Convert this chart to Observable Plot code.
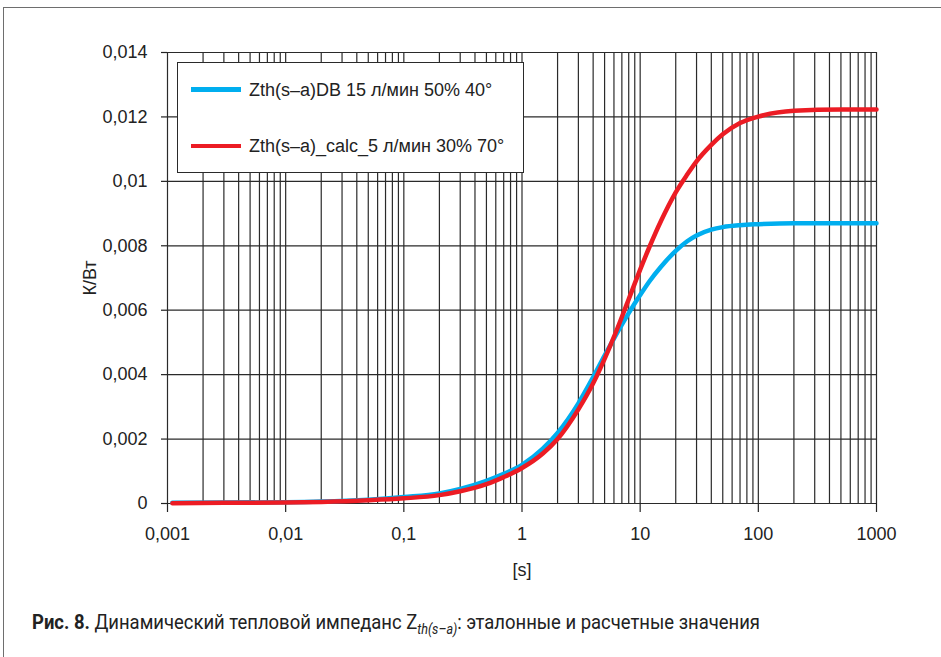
<!DOCTYPE html>
<html>
<head>
<meta charset="utf-8">
<script src="https://cdn.jsdelivr.net/npm/d3@7"></script>
<script src="https://cdn.jsdelivr.net/npm/@observablehq/plot@0.6"></script>
<style>
  html, body { margin: 0; padding: 0; background: #fff; }
  body { width: 941px; height: 657px; position: relative; overflow: hidden; font-family: "Liberation Sans", Arial, sans-serif; }
  #frame { position: absolute; left: 3px; top: 7px; width: 960px; height: 700px; border-top: 1.5px solid #6e6e6e; border-left: 1.5px solid #6e6e6e; }
  #chart { position: absolute; left: 0; top: 0; }
  #legend { position: absolute; left: 177px; top: 62px; width: 345px; height: 109px; border: 1.3px solid #2a2a2a; background: #fff; }
  .lg { position: absolute; left: 71px; font-size: 18px; color: #222; line-height: 20px; white-space: nowrap; }
  .sw { position: absolute; left: 13px; width: 50px; height: 4.5px; }
  #caption { position: absolute; left: 32px; top: 610px; font-family: Roboto, "Liberation Sans", sans-serif; font-size: 21px; color: #222; white-space: nowrap; transform-origin: 0 0; }
  #caption b { font-weight: 700; }
  #caption sub { font-style: italic; font-size: 0.68em; vertical-align: -0.35em; }
</style>
</head>
<body>
<div id="frame"></div>
<div id="chart"></div>
<div id="legend"></div>
<div id="caption"><b>Рис. 8.</b> Динамический тепловой импеданс Z<sub>th(s–a)</sub>: эталонные и расчетные значения</div>
<script>
// ---- data ----
const times = [0.0011, 0.003, 0.01, 0.02, 0.05, 0.1, 0.2, 0.3, 0.5, 0.7, 1, 1.5, 2, 3, 4, 5, 6, 7, 8, 10, 12, 15, 20, 25, 30, 40, 50, 70, 100, 200, 500, 1000];
const zthDB = [0.00002, 0.00003, 0.00004, 0.00006, 0.00012, 0.0002, 0.00031, 0.00045, 0.0007, 0.00092, 0.0012, 0.0017, 0.00219, 0.00311, 0.00392, 0.00459, 0.00512, 0.00555, 0.00591, 0.00647, 0.0069, 0.00735, 0.00784, 0.00814, 0.00832, 0.0085, 0.00858, 0.00864, 0.00867, 0.0087, 0.0087, 0.0087];
const zthCalc = [0.00001, 0.00002, 0.00003, 0.00005, 0.0001, 0.00016, 0.00026, 0.00038, 0.0006, 0.00082, 0.0011, 0.00155, 0.002, 0.00292, 0.00373, 0.00449, 0.00517, 0.00579, 0.00634, 0.00726, 0.00797, 0.00877, 0.00966, 0.01021, 0.01062, 0.01113, 0.01146, 0.01181, 0.01201, 0.01219, 0.01223, 0.01223];
const seriesNames = ["Zth(s–a)DB 15 л/мин 50% 40°", "Zth(s–a)_calc_5 л/мин 30% 70°"];
const seriesColors = ["#00aeef", "#ec1c24"];
const xTicks = [0.001, 0.01, 0.1, 1, 10, 100, 1000];
const xTickLabels = ["0,001", "0,01", "0,1", "1", "10", "100", "1000"];
const yTicks = [0, 0.002, 0.004, 0.006, 0.008, 0.01, 0.012, 0.014];
const yTickLabels = ["0", "0,002", "0,004", "0,006", "0,008", "0,01", "0,012", "0,014"];
const xLabel = "[s]";
const yLabel = "К/Вт";

// ---- build ----
const rows = [];
times.forEach((t, i) => rows.push({t, v: zthDB[i], s: seriesNames[0]}));
times.forEach((t, i) => rows.push({t, v: zthCalc[i], s: seriesNames[1]}));
const gridX = [];
xTicks.slice(0, -1).forEach(d => { for (let k = 1; k <= 9; k++) gridX.push(d * k); });
gridX.push(xTicks[xTicks.length - 1]);
const xFmt = new Map(xTicks.map((d, i) => [d, xTickLabels[i]]));
const yFmt = new Map(yTicks.map((d, i) => [d, yTickLabels[i]]));

const chart = Plot.plot({
  width: 941, height: 600,
  marginLeft: 167, marginRight: 65, marginTop: 52, marginBottom: 97,
  x: {type: "log", domain: [0.001, 1000]},
  y: {domain: [0, 0.014]},
  color: {domain: seriesNames, range: seriesColors},
  style: {fontFamily: "'Liberation Sans', Arial, sans-serif", fontSize: "18px", color: "#222", background: "transparent", overflow: "visible"},
  marks: [
    Plot.ruleX(gridX, {stroke: "#2a2a2a", strokeWidth: 1.2}),
    Plot.ruleY(yTicks, {stroke: "#2a2a2a", strokeWidth: 1.2}),
    Plot.axisX(xTicks, {tickSize: 9, tickPadding: 15, tickFormat: d => xFmt.get(d), label: xLabel, labelAnchor: "center", labelArrow: "none", labelOffset: 72, strokeWidth: 1.2}),
    Plot.axisY(yTicks, {tickSize: 6, tickPadding: 14, tickFormat: d => yFmt.get(d), label: yLabel, labelAnchor: "center", labelArrow: "none", labelOffset: 84, strokeWidth: 1.2}),
    Plot.line(rows, {x: "t", y: "v", z: "s", stroke: "s", strokeWidth: 4.5, curve: "monotone-x"})
  ]
});
document.getElementById("chart").appendChild(chart);

// legend
const lg = document.getElementById("legend");
const tops = [26.5, 83];
seriesNames.forEach((n, i) => {
  const sw = document.createElement("div");
  sw.className = "sw"; sw.style.top = (tops[i] - 2.25) + "px"; sw.style.background = seriesColors[i];
  lg.appendChild(sw);
  const tx = document.createElement("div");
  tx.className = "lg"; tx.style.top = (tops[i] - 10) + "px"; tx.textContent = n;
  lg.appendChild(tx);
});

// caption condensed to reference width
const cap = document.getElementById("caption");
const w = cap.getBoundingClientRect().width;
cap.style.transform = `scaleX(${728 / w})`;
</script>
</body>
</html>
